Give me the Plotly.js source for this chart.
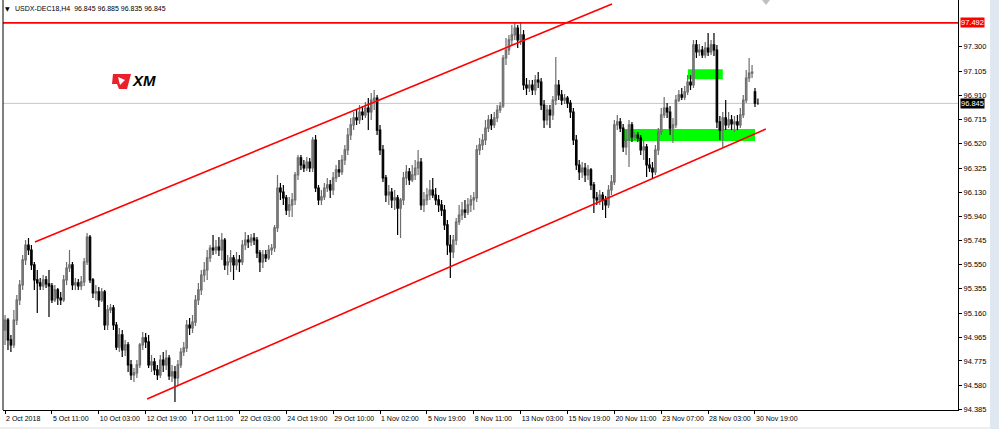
<!DOCTYPE html>
<html>
<head>
<meta charset="utf-8">
<script src="https://cdn.plot.ly/plotly-3.0.1.min.js"></script>
<style>
html,body{margin:0;padding:0;background:#fff;}
#chart{width:999px;height:429px;}
</style>
</head>
<body>
<div id="chart"></div>
<script>
// ---- data (USDX-DEC18, H4) ----
const tickLabels = ["2 Oct 2018","5 Oct 11:00","10 Oct 03:00","12 Oct 19:00","17 Oct 11:00","22 Oct 03:00","24 Oct 19:00","29 Oct 10:00","1 Nov 02:00","5 Nov 19:00","8 Nov 11:00","13 Nov 03:00","15 Nov 19:00","20 Nov 11:00","23 Nov 07:00","28 Nov 03:00","30 Nov 19:00"];
const tickBars = [0,16,32,48,64,80,96,112,128,144,160,176,192,208,224,240,256];
const priceTicks = [97.300,97.105,96.910,96.715,96.520,96.325,96.130,95.940,95.745,95.550,95.355,95.160,94.965,94.775,94.580,94.385];

const open = [
95.024,95.104,94.944,94.904,95.104,95.265,95.386,95.587,95.707,95.667,95.547,95.426,95.402,95.378,95.426,95.394,
95.378,95.265,95.346,95.281,95.265,95.426,95.522,95.547,95.386,95.402,95.378,95.410,95.571,95.771,95.426,95.322,
95.330,95.265,95.330,95.064,95.185,95.201,95.064,94.887,94.984,94.863,94.904,94.743,94.663,94.679,94.743,94.904,
94.960,94.928,94.743,94.767,94.703,94.663,94.783,94.743,94.799,94.655,94.687,94.639,94.743,94.847,94.880,95.064,
95.040,95.088,95.265,95.346,95.466,95.506,95.603,95.683,95.667,95.691,95.667,95.747,95.547,95.571,95.603,95.547,
95.587,95.571,95.707,95.747,95.731,95.763,95.747,95.643,95.571,95.627,95.603,95.667,95.683,95.844,96.165,96.133,
96.085,95.988,96.029,96.069,96.270,96.407,96.350,96.326,96.374,96.326,96.551,96.165,96.069,96.093,96.165,96.190,
96.149,96.246,96.310,96.294,96.390,96.471,96.591,96.672,96.728,96.712,96.776,96.752,96.808,96.776,96.872,96.888,
96.631,96.471,96.246,96.109,96.133,96.069,96.085,96.004,96.069,96.246,96.294,96.230,96.270,96.326,96.374,96.029,
96.069,96.109,96.149,96.109,96.069,96.029,95.988,95.868,95.707,95.651,95.747,95.892,95.948,95.988,95.972,96.029,
96.069,96.085,96.471,96.511,96.551,96.647,96.712,96.672,96.728,96.792,96.824,97.210,97.274,97.355,97.395,97.451,
97.355,97.395,96.993,96.969,96.993,96.953,97.033,97.017,96.832,96.712,96.792,96.752,96.872,96.993,96.913,96.872,
96.888,96.848,96.776,96.551,96.350,96.294,96.326,96.270,96.310,96.190,96.085,96.069,96.109,96.069,96.029,96.149,
96.214,96.672,96.696,96.647,96.495,96.551,96.672,96.575,96.591,96.567,96.471,96.495,96.350,96.326,96.294,96.471,
96.615,96.752,96.808,96.776,96.647,96.672,96.872,96.913,96.896,96.937,97.017,96.993,97.315,97.258,97.274,97.234,
97.290,97.258,97.315,97.274,96.696,96.631,96.728,96.672,96.712,96.680,96.696,96.672,96.752,96.872,97.049,97.089,
96.937,96.845];
const high = [
95.145,95.120,94.984,95.185,95.306,95.426,95.627,95.747,95.763,95.707,95.571,95.506,95.442,95.466,95.458,95.506,
95.402,95.386,95.362,95.330,95.466,95.571,95.667,95.571,95.442,95.434,95.458,95.603,95.804,95.788,95.442,95.386,
95.370,95.362,95.346,95.225,95.233,95.225,95.088,95.040,95.024,94.944,94.928,94.783,94.719,94.783,94.920,95.008,
95.000,94.984,94.823,94.799,94.743,94.823,94.847,94.863,94.823,94.743,94.735,94.783,94.880,94.928,95.104,95.120,
95.145,95.306,95.402,95.506,95.571,95.667,95.707,95.788,95.747,95.771,95.804,95.763,95.627,95.667,95.627,95.651,
95.627,95.747,95.812,95.788,95.796,95.804,95.771,95.667,95.667,95.667,95.707,95.715,95.868,96.270,96.206,96.190,
96.109,96.093,96.125,96.294,96.431,96.431,96.390,96.414,96.406,96.575,96.591,96.190,96.149,96.206,96.246,96.230,
96.294,96.350,96.390,96.431,96.511,96.647,96.728,96.776,96.792,96.832,96.824,96.856,96.888,96.929,96.953,96.913,
96.672,96.511,96.270,96.190,96.165,96.149,96.109,96.085,96.294,96.350,96.326,96.350,96.390,96.471,96.406,96.133,
96.165,96.230,96.246,96.165,96.109,96.069,96.029,95.908,95.788,95.788,95.924,96.029,96.053,96.069,96.085,96.109,
96.133,96.511,96.567,96.599,96.712,96.752,96.760,96.776,96.832,96.856,97.234,97.371,97.395,97.475,97.499,97.475,
97.499,97.435,97.049,97.033,97.033,97.073,97.097,97.049,96.872,96.832,96.832,96.904,97.218,97.033,96.953,96.921,
96.904,96.872,96.808,96.591,96.390,96.374,96.366,96.350,96.326,96.214,96.133,96.149,96.133,96.101,96.190,96.270,
96.712,96.752,96.728,96.680,96.631,96.712,96.696,96.615,96.615,96.591,96.551,96.519,96.406,96.374,96.511,96.647,
96.808,96.896,96.848,96.824,96.728,96.913,96.953,96.969,96.985,97.073,97.073,97.355,97.355,97.323,97.306,97.339,
97.411,97.355,97.411,97.315,96.744,96.776,96.872,96.776,96.752,96.744,96.752,96.808,96.913,97.113,97.210,97.154,
96.969,96.885];
const low = [
94.904,94.863,94.847,94.880,95.064,95.225,95.346,95.547,95.627,95.506,95.346,95.161,95.346,95.346,95.362,95.128,
95.241,95.249,95.225,95.225,95.249,95.386,95.490,95.346,95.346,95.346,95.346,95.378,95.547,95.402,95.281,95.265,
95.209,95.249,95.024,95.024,95.161,95.024,94.863,94.847,94.807,94.815,94.687,94.622,94.606,94.639,94.719,94.863,
94.880,94.719,94.687,94.663,94.622,94.639,94.687,94.703,94.622,94.606,94.446,94.582,94.719,94.815,94.847,94.984,
95.000,95.056,95.225,95.306,95.410,95.426,95.571,95.627,95.635,95.619,95.587,95.506,95.466,95.490,95.426,95.506,
95.490,95.547,95.667,95.683,95.699,95.707,95.603,95.490,95.522,95.571,95.587,95.627,95.651,95.812,96.069,96.029,
95.948,95.932,95.932,96.029,96.230,96.310,96.294,96.302,96.294,96.294,96.133,96.029,96.029,96.069,96.133,96.085,
96.109,96.214,96.254,96.270,96.350,96.431,96.551,96.631,96.672,96.680,96.712,96.728,96.631,96.712,96.792,96.591,
96.431,96.214,96.053,96.029,96.004,95.988,95.788,95.763,96.029,96.190,96.190,96.214,96.230,96.270,95.988,95.972,
96.029,96.069,96.085,96.029,95.972,95.940,95.828,95.627,95.442,95.603,95.707,95.868,95.908,95.924,95.948,95.972,
95.988,96.053,96.431,96.471,96.511,96.615,96.631,96.647,96.696,96.768,96.808,97.154,97.234,97.315,97.355,97.290,
97.315,96.953,96.913,96.937,96.913,96.913,96.969,96.792,96.647,96.672,96.647,96.712,96.832,96.872,96.832,96.840,
96.808,96.728,96.511,96.310,96.230,96.246,96.214,96.230,96.149,95.964,96.029,96.029,95.988,95.924,96.004,96.109,
96.190,96.631,96.615,96.455,96.431,96.334,96.535,96.551,96.535,96.431,96.390,96.254,96.294,96.246,96.270,96.431,
96.591,96.728,96.728,96.591,96.527,96.647,96.856,96.872,96.872,96.913,96.953,96.969,97.210,97.226,97.210,97.210,
97.226,97.234,97.226,96.647,96.551,96.495,96.631,96.647,96.631,96.615,96.631,96.647,96.728,96.848,97.017,97.049,
96.816,96.835];
const close = [
95.104,94.944,94.904,95.104,95.265,95.386,95.587,95.707,95.667,95.547,95.426,95.402,95.378,95.426,95.394,95.378,
95.265,95.346,95.281,95.265,95.426,95.522,95.547,95.386,95.402,95.378,95.410,95.571,95.771,95.426,95.322,95.330,
95.265,95.330,95.064,95.185,95.201,95.064,94.887,94.984,94.863,94.904,94.743,94.663,94.679,94.743,94.904,94.960,
94.928,94.743,94.767,94.703,94.663,94.783,94.743,94.799,94.655,94.687,94.639,94.743,94.847,94.880,95.064,95.040,
95.088,95.265,95.346,95.466,95.506,95.603,95.683,95.667,95.691,95.667,95.747,95.547,95.571,95.603,95.547,95.587,
95.571,95.707,95.747,95.731,95.763,95.747,95.643,95.571,95.627,95.603,95.667,95.683,95.844,96.165,96.133,96.085,
95.988,96.029,96.069,96.270,96.407,96.350,96.326,96.374,96.326,96.551,96.165,96.069,96.093,96.165,96.190,96.149,
96.246,96.310,96.294,96.390,96.471,96.591,96.672,96.728,96.712,96.776,96.752,96.808,96.776,96.872,96.888,96.631,
96.471,96.246,96.109,96.133,96.069,96.085,96.004,96.069,96.246,96.294,96.230,96.270,96.326,96.374,96.029,96.069,
96.109,96.149,96.109,96.069,96.029,95.988,95.868,95.707,95.651,95.747,95.892,95.948,95.988,95.972,96.029,96.069,
96.085,96.471,96.511,96.551,96.647,96.712,96.672,96.728,96.792,96.824,97.210,97.274,97.355,97.395,97.451,97.355,
97.395,96.993,96.969,96.993,96.953,97.033,97.017,96.832,96.712,96.792,96.752,96.872,96.993,96.913,96.872,96.888,
96.848,96.776,96.551,96.350,96.294,96.326,96.270,96.310,96.190,96.085,96.069,96.109,96.069,96.029,96.149,96.214,
96.672,96.696,96.647,96.495,96.551,96.672,96.575,96.591,96.567,96.471,96.495,96.350,96.326,96.294,96.471,96.615,
96.752,96.808,96.776,96.647,96.672,96.872,96.913,96.896,96.937,97.017,96.993,97.315,97.258,97.274,97.234,97.290,
97.258,97.315,97.274,96.696,96.631,96.728,96.672,96.712,96.680,96.696,96.672,96.752,96.872,97.049,97.089,97.097,
96.848,96.845];

// drawn objects (bar index, price)
const upperChannelBars = [10.2, 207.2];
const upperChannelPrices = [95.731, 97.644];
const lowerChannelBars = [48.5, 259.7];
const lowerChannelPrices = [94.470, 96.639];
const resistanceLevel = [97.492];
const lastPrice = [96.845];
const zoneUpperBars = [233.1, 245.0];
const zoneUpperPrices = [97.040, 97.120];
const zoneLowerBars = [210.9, 256.0];
const zoneLowerPrices = [96.543, 96.639];
const titleText = "USDX-DEC18,H4  96.845 96.885 96.835 96.845";

const bars = open.map((_, i) => i);

const traces = [
  {
    type: 'candlestick', x: bars, open: open, high: high, low: low, close: close,
    increasing: {line: {color: '#6e6e6e', width: 1.2}, fillcolor: '#9a9a9a'},
    decreasing: {line: {color: '#000000', width: 1.2}, fillcolor: '#000000'},
    whiskerwidth: 0, hoverinfo: 'skip', showlegend: false
  },
  {type: 'scatter', mode: 'lines', x: upperChannelBars, y: upperChannelPrices,
   line: {color: '#ff0000', width: 1.6}, hoverinfo: 'skip', showlegend: false},
  {type: 'scatter', mode: 'lines', x: lowerChannelBars, y: lowerChannelPrices,
   line: {color: '#ff0000', width: 1.6}, hoverinfo: 'skip', showlegend: false}
];

const P = (px) => (px - 3) / 955;       // paper x from pixel
const Q = (py) => (410 - py) / 410;     // paper y from pixel

const shapes = [
  {type: 'rect', xref: 'x', yref: 'y', x0: zoneUpperBars[0], x1: zoneUpperBars[1], y0: zoneUpperPrices[0], y1: zoneUpperPrices[1],
   fillcolor: '#00ff00', line: {width: 0}, layer: 'below'},
  {type: 'rect', xref: 'x', yref: 'y', x0: zoneLowerBars[0], x1: zoneLowerBars[1], y0: zoneLowerPrices[0], y1: zoneLowerPrices[1],
   fillcolor: '#00ff00', line: {width: 0}, layer: 'below'},
  {type: 'line', xref: 'paper', yref: 'y', x0: 0, x1: 1, y0: lastPrice[0], y1: lastPrice[0],
   line: {color: '#c8c8c8', width: 1}, layer: 'below'},
  {type: 'line', xref: 'paper', yref: 'y', x0: 0, x1: 1, y0: resistanceLevel[0], y1: resistanceLevel[0],
   line: {color: '#ff0000', width: 1.6}},
  {type: 'line', xref: 'paper', yref: 'paper', x0: 0, x1: 0, y0: 0, y1: 1, line: {color: '#000', width: 1}},
  {type: 'rect', xref: 'paper', yref: 'paper', x0: -0.01, x1: 1.05, y0: Q(427), y1: Q(431), fillcolor: '#eeeeee', line: {width: 0}, layer: 'below'},
  {type: 'rect', xref: 'paper', yref: 'paper', x0: P(990), x1: P(1000), y0: Q(431), y1: 1.01, fillcolor: '#dfe7f1', line: {width: 0}, layer: 'below'},
  {type: 'path', xref: 'paper', yref: 'paper',
   path: `M ${P(762)} ${Q(0)} L ${P(770)} ${Q(0)} L ${P(766)} ${Q(5)} Z`, fillcolor: '#c0c0c0', line: {width: 0}},
  {type: 'path', xref: 'paper', yref: 'paper',
   path: `M ${P(113)} ${Q(74)} L ${P(131)} ${Q(74)} L ${P(127)} ${Q(89)} L ${P(119)} ${Q(89)} L ${P(117)} ${Q(84)} L ${P(112)} ${Q(84)} Z`,
   fillcolor: '#e8212b', line: {width: 0}},
  {type: 'path', xref: 'paper', yref: 'paper',
   path: `M ${P(118)} ${Q(77)} L ${P(125)} ${Q(80)} L ${P(120)} ${Q(85)} Z`,
   fillcolor: '#ffffff', line: {width: 0}}
];

const annotations = [
  {xref: 'paper', yref: 'paper', x: P(7), y: Q(8), text: '▼', showarrow: false, xanchor: 'center', yanchor: 'middle',
   font: {family: 'DejaVu Sans', size: 6, color: '#000'}},
  {xref: 'paper', yref: 'paper', x: P(13), y: Q(8), text: titleText, showarrow: false, xanchor: 'left', yanchor: 'middle',
   font: {family: 'Liberation Sans', size: 7, color: '#000'}},
  {xref: 'paper', yref: 'y', x: 1, y: resistanceLevel[0], text: resistanceLevel[0].toFixed(3), showarrow: false,
   xanchor: 'left', yanchor: 'middle', xshift: 2, bgcolor: '#ff0000', borderpad: 0,
   font: {family: 'Liberation Sans', size: 7.5, color: '#ffffff'}},
  {xref: 'paper', yref: 'y', x: 1, y: lastPrice[0], text: lastPrice[0].toFixed(3), showarrow: false,
   xanchor: 'left', yanchor: 'middle', xshift: 2, bgcolor: '#000000', borderpad: 0,
   font: {family: 'Liberation Sans', size: 7.5, color: '#ffffff'}},
  {xref: 'paper', yref: 'paper', x: P(130), y: Q(81), text: '<b><i>XM</i></b>', showarrow: false, xanchor: 'left', yanchor: 'middle',
   font: {family: 'Liberation Sans', size: 15, color: '#000000'}}
];

const layout = {
  width: 999, height: 429,
  margin: {l: 3, r: 41, t: 0, b: 19, pad: 0},
  paper_bgcolor: '#ffffff', plot_bgcolor: '#ffffff',
  showlegend: false,
  xaxis: {
    type: 'linear', range: [-0.7, 325.3], rangeslider: {visible: false},
    showgrid: false, zeroline: false, showline: true, linecolor: '#000', linewidth: 1,
    tickmode: 'array', tickvals: tickBars, ticktext: tickLabels, tickangle: 0,
    ticks: 'outside', ticklen: 3, tickcolor: '#000', tickwidth: 1,
    ticklabelposition: 'outside right', ticklabelstandoff: 2,
    tickfont: {family: 'Liberation Sans', size: 7, color: '#000'},
    automargin: false, fixedrange: true
  },
  yaxis: {
    side: 'right', range: [94.381, 97.676],
    showgrid: false, zeroline: false, showline: true, linecolor: '#000', linewidth: 1,
    tickmode: 'array', tickvals: priceTicks, tickformat: '.3f',
    ticks: 'outside', ticklen: 3, tickcolor: '#000', tickwidth: 1,
    tickfont: {family: 'Liberation Sans', size: 7.5, color: '#000'},
    automargin: false, fixedrange: true
  },
  shapes: shapes,
  annotations: annotations
};

Plotly.newPlot('chart', traces, layout, {displayModeBar: false, staticPlot: true});
</script>
</body>
</html>
